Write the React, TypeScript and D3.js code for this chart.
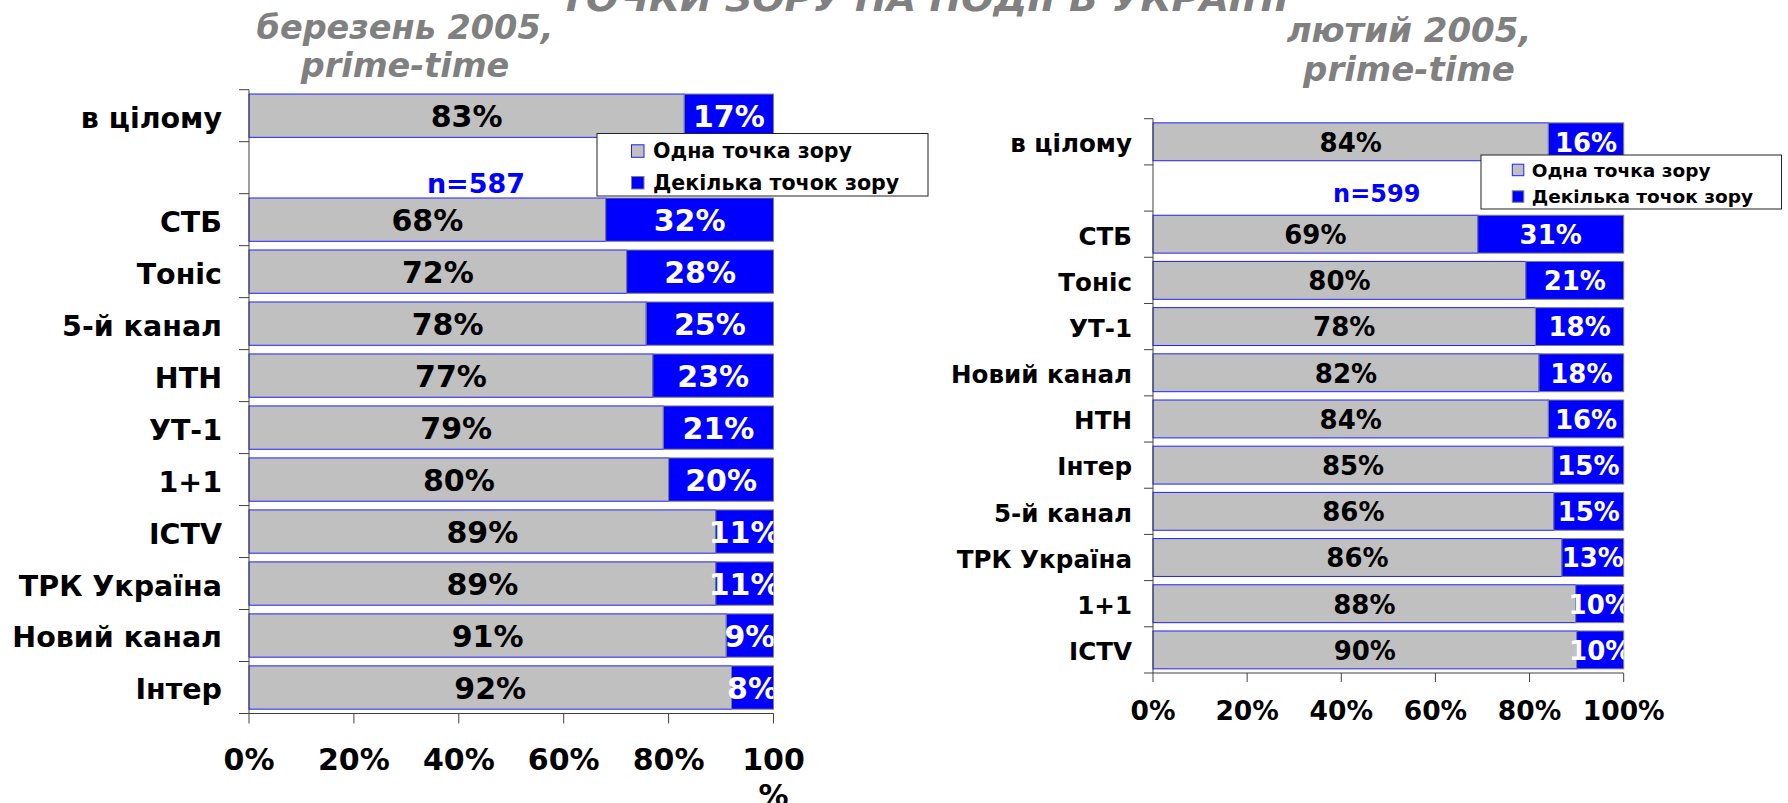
import React from "react";
import * as d3 from "d3";

// ---------- data ----------
const mainTitle = "ТОЧКИ ЗОРУ НА ПОДІЇ В УКРАЇНІ";
const seriesNames = ["Одна точка зору", "Декілька точок зору"];
const xTickValues = [0, 20, 40, 60, 80, 100];

const marchTitle = ["березень 2005,", "prime-time"];
const marchCategories = ["в цілому", "", "СТБ", "Тоніс", "5-й канал", "НТН", "УТ-1", "1+1", "ICTV", "ТРК Україна", "Новий канал", "Інтер"];
const marchOne: (number | null)[] = [83, null, 68, 72, 78, 77, 79, 80, 89, 89, 91, 92];
const marchMany: (number | null)[] = [17, null, 32, 28, 25, 23, 21, 20, 11, 11, 9, 8];
const marchN = "n=587";

const febTitle = ["лютий 2005,", "prime-time"];
const febCategories = ["в цілому", "", "СТБ", "Тоніс", "УТ-1", "Новий канал", "НТН", "Інтер", "5-й канал", "ТРК Україна", "1+1", "ICTV"];
const febOne: (number | null)[] = [84, null, 69, 80, 78, 82, 84, 85, 86, 86, 88, 90];
const febMany: (number | null)[] = [16, null, 31, 21, 18, 18, 16, 15, 15, 13, 10, 10];
const febN = "n=599";

// ---------- style ----------
const COLORS = {
  one: "#C0C0C0",
  many: "#0000FF",
  oneStroke: "#2020FF",
  manyStroke: "#808080",
  title: "#808080",
  axis: "#404040",
  nText: "#0000FF",
};
const FONT = "'DejaVu Sans', Verdana, sans-serif";

const leftLayout = {
  x0: 249, x1: 773.5, top: 89.7, bottom: 713.5, pad: 0.167,
  labelFont: 28.5, valueFont: 30, tickFont: 30, tickBaseline: 770, tickLen: 10,
  labelGap: 27, wrapLast: true,
  titleX: 405, titleY1: 38.5, titleY2: 77, titleFont: 33.5,
  legend: { x: 597, y: 133.5, w: 331, h: 62.5, font: 20.6, textX: 653, row1: 158.3, row2: 190, markerX: 631.5, marker: 12.5 },
  n: { x: 476, y: 193.3, font: 27 },
};
const rightLayout = {
  x0: 1153, x1: 1623.7, top: 118.7, bottom: 673, pad: 0.18,
  labelFont: 24.6, valueFont: 26, tickFont: 26.5, tickBaseline: 720, tickLen: 9,
  labelGap: 21, wrapLast: false,
  titleX: 1409, titleY1: 41.5, titleY2: 80.5, titleFont: 34,
  legend: { x: 1481, y: 155, w: 300.5, h: 54, font: 18.5, textX: 1531.7, row1: 176.7, row2: 203.3, markerX: 1512.3, marker: 11.5 },
  n: { x: 1376.7, y: 201.7, font: 24 },
};

type Layout = typeof leftLayout;

function Panel(props: {
  id: string; cats: string[]; one: (number | null)[]; many: (number | null)[];
  title: string[]; nText: string; L: Layout;
}) {
  const { id, cats, one, many, title, nText, L } = props;
  const x = d3.scaleLinear().domain([0, 1]).range([L.x0, L.x1]);
  const keys = cats.map((_, i) => String(i));
  const y = d3.scaleBand<string>().domain(keys).range([L.top, L.bottom])
    .paddingInner(L.pad).paddingOuter(L.pad / 2);
  const rows = cats
    .map((c, i) => ({ key: String(i), one: one[i] ?? 0, many: many[i] ?? 0, valid: one[i] != null }))
    .filter((r) => r.valid);
  const stack = d3.stack<any>().keys(["one", "many"]).offset(d3.stackOffsetExpand);
  const series = stack(rows);
  const step = y.step();
  const boundaries = d3.range(cats.length + 1).map((i) => L.top + i * step);

  const fills = [COLORS.one, COLORS.many];
  const strokes = [COLORS.oneStroke, COLORS.manyStroke];
  const textFill = ["#000000", "#FFFFFF"];

  return (
    <g>
      <defs>
        <clipPath id={`clip-${id}`}>
          <rect x={L.x0} y={L.top} width={L.x1 - L.x0} height={L.bottom - L.top} />
        </clipPath>
      </defs>
      {/* subtitle */}
      <text x={L.titleX} y={L.titleY1} textAnchor="middle" fontFamily={FONT} fontWeight="bold"
        fontStyle="italic" fontSize={L.titleFont} fill={COLORS.title}>{title[0]}</text>
      <text x={L.titleX} y={L.titleY2} textAnchor="middle" fontFamily={FONT} fontWeight="bold"
        fontStyle="italic" fontSize={L.titleFont} fill={COLORS.title}>{title[1]}</text>

      {/* bars */}
      {series.map((s, si) => (
        <g key={si}>
          {s.map((d: any) => (
            <rect key={d.data.key} x={x(d[0])} y={y(d.data.key)} width={x(d[1]) - x(d[0])}
              height={y.bandwidth()} fill={fills[si]} stroke={strokes[si]} strokeWidth={1} />
          ))}
        </g>
      ))}
      {/* value labels */}
      <g clipPath={`url(#clip-${id})`}>
        {series.map((s, si) => (
          <g key={si}>
            {s.map((d: any) => (
              <text key={d.data.key} x={(x(d[0]) + x(d[1])) / 2} y={(y(d.data.key) as number) + y.bandwidth() / 2}
                dy="0.38em" textAnchor="middle" fontFamily={FONT} fontWeight="bold" fontSize={L.valueFont}
                fill={textFill[si]}>{`${d.data[si === 0 ? "one" : "many"]}%`}</text>
            ))}
          </g>
        ))}
      </g>

      {/* y axis */}
      <line x1={L.x0} x2={L.x0} y1={L.top} y2={L.bottom} stroke={COLORS.axis} strokeWidth={1} />
      {boundaries.map((b, i) => (
        <line key={i} x1={L.x0 - L.tickLen} x2={L.x0} y1={b} y2={b} stroke={COLORS.axis} strokeWidth={1} />
      ))}
      {cats.map((c, i) => (
        <text key={i} x={L.x0 - L.labelGap} y={(y(String(i)) as number) + y.bandwidth() / 2} dy="0.42em"
          textAnchor="end" fontFamily={FONT} fontWeight="bold" fontSize={L.labelFont} fill="#000">{c}</text>
      ))}

      {/* x axis */}
      <line x1={L.x0} x2={L.x1} y1={L.bottom} y2={L.bottom} stroke={COLORS.axis} strokeWidth={1} />
      {xTickValues.map((t) => (
        <line key={t} x1={x(t / 100)} x2={x(t / 100)} y1={L.bottom} y2={L.bottom + L.tickLen}
          stroke={COLORS.axis} strokeWidth={1} />
      ))}
      {xTickValues.map((t, i) => {
        const last = i === xTickValues.length - 1;
        if (L.wrapLast && last) {
          return (
            <text key={t} x={x(t / 100)} y={L.tickBaseline} textAnchor="middle" fontFamily={FONT}
              fontWeight="bold" fontSize={L.tickFont} fill="#000">
              <tspan x={x(t / 100)}>{`${t}`}</tspan>
              <tspan x={x(t / 100)} dy="1.2em">%</tspan>
            </text>
          );
        }
        return (
          <text key={t} x={x(t / 100)} y={L.tickBaseline} textAnchor="middle" fontFamily={FONT}
            fontWeight="bold" fontSize={L.tickFont} fill="#000">{`${t}%`}</text>
        );
      })}

      {/* n label */}
      <text x={L.n.x} y={L.n.y} textAnchor="middle" fontFamily={FONT} fontWeight="bold"
        fontSize={L.n.font} fill={COLORS.nText}>{nText}</text>

      {/* legend */}
      <rect x={L.legend.x} y={L.legend.y} width={L.legend.w} height={L.legend.h} fill="#FFFFFF"
        stroke="#222222" strokeWidth={1} />
      {seriesNames.map((name, i) => {
        const base = i === 0 ? L.legend.row1 : L.legend.row2;
        return (
          <g key={name}>
            <rect x={L.legend.markerX} y={base - L.legend.marker - 1} width={L.legend.marker}
              height={L.legend.marker} fill={fills[i]} stroke={strokes[i]} strokeWidth={1} />
            <text x={L.legend.textX} y={base} fontFamily={FONT} fontWeight="bold"
              fontSize={L.legend.font} fill="#000">{name}</text>
          </g>
        );
      })}
    </g>
  );
}

export default function App() {
  return (
    <svg width={1788} height={803} style={{ position: "absolute", left: 0, top: 0, background: "#fff" }}>
      <rect x={0} y={0} width={1788} height={803} fill="#FFFFFF" />
      <text x={560} y={11} fontFamily={FONT} fontWeight="bold" fontStyle="italic" fontSize={36}
        fill={COLORS.title} textLength={729} lengthAdjust="spacingAndGlyphs">{mainTitle}</text>
      <Panel id="mar" cats={marchCategories} one={marchOne} many={marchMany} title={marchTitle}
        nText={marchN} L={leftLayout} />
      <Panel id="feb" cats={febCategories} one={febOne} many={febMany} title={febTitle}
        nText={febN} L={rightLayout} />
    </svg>
  );
}
